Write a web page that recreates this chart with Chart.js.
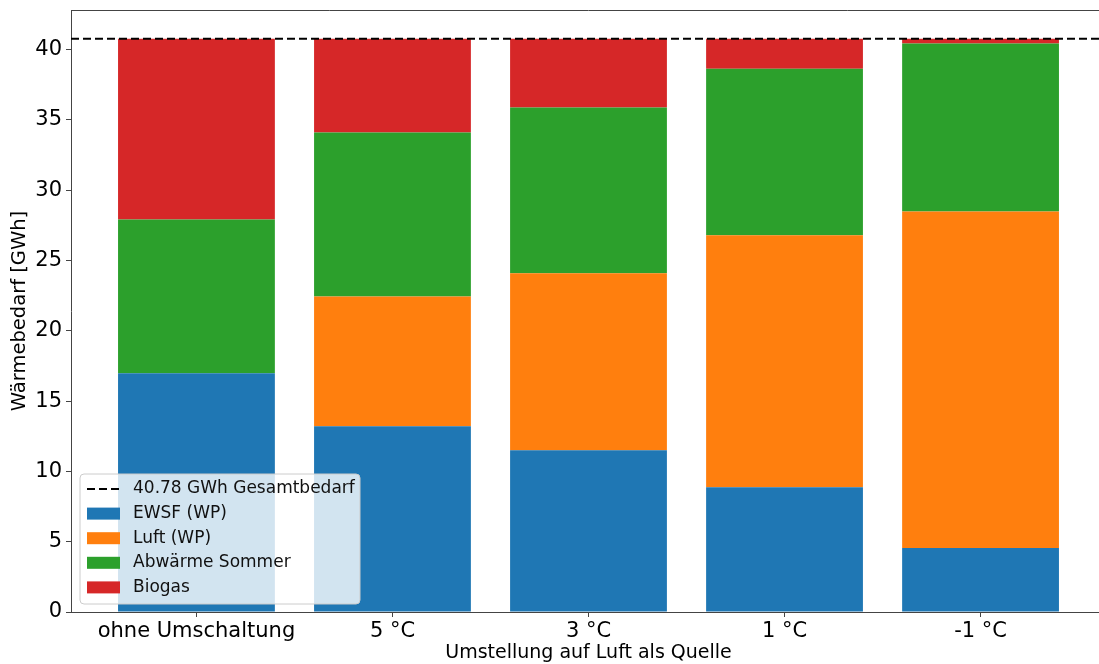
<!DOCTYPE html>
<html>
<head>
<meta charset="utf-8">
<script src="https://cdn.jsdelivr.net/npm/chart.js@4/dist/chart.umd.min.js"></script>
<style>
  html, body { margin: 0; padding: 0; background: white; overflow: hidden; width: 1099px; height: 664px; }
  #wrap { width: 1110px; height: 664px; }
</style>
</head>
<body>
<div id="wrap"><canvas id="waerme" width="1110" height="664"></canvas></div>
<script>
var categories = ['ohne Umschaltung', '5 °C', '3 °C', '1 °C', '-1 °C'];
var ewsf = [16.98, 13.21, 11.51, 8.88, 4.55];
var luft = [0, 9.24, 12.58, 17.91, 23.94];
var abwaerme = [10.94, 11.65, 11.79, 11.86, 11.94];
var biogas = [12.86, 6.68, 4.90, 2.13, 0.35];
var gesamtbedarf = 40.78;
var yTicks = [0, 5, 10, 15, 20, 25, 30, 35, 40];

var xMin = -0.64, xMax = 4.64;
var font = 'DejaVu Sans';

function points(arr) {
    return arr.map(function (v, i) { return { x: i, y: v }; });
}

// legend box like matplotlib, lower left inside the axes
var mplLegend = {
    id: 'mplLegend',
    afterDraw: function (chart) {
        var ctx = chart.ctx;
        var area = chart.chartArea;
        var x0 = area.left + 9, y1 = area.bottom - 8;
        var w = 280, h = 130;
        var y0 = y1 - h;
        ctx.save();
        ctx.beginPath();
        ctx.roundRect(x0, y0, w, h, 4);
        ctx.fillStyle = 'rgba(255,255,255,0.8)';
        ctx.fill();
        ctx.strokeStyle = '#cccccc';
        ctx.lineWidth = 1;
        ctx.stroke();
        ctx.font = '17px ' + font;
        ctx.textBaseline = 'middle';
        var order = [4, 0, 1, 2, 3];
        order.forEach(function (di, k) {
            var ds = chart.data.datasets[di];
            var cy = y0 + 15 + k * 24.6;
            var hx = x0 + 7;
            if (ds.type === 'line') {
                ctx.strokeStyle = ds.borderColor;
                ctx.lineWidth = 2;
                ctx.setLineDash(ds.borderDash);
                ctx.beginPath();
                ctx.moveTo(hx, cy);
                ctx.lineTo(hx + 33, cy);
                ctx.stroke();
                ctx.setLineDash([]);
            } else {
                ctx.fillStyle = ds.backgroundColor;
                ctx.fillRect(hx, cy - 6, 33, 12);
            }
            ctx.fillStyle = '#111';
            ctx.fillText(ds.label, x0 + 53, cy);
        });
        ctx.restore();
    }
};

var ctx = document.getElementById('waerme').getContext('2d');
var waermeChart = new Chart(ctx, {
    type: 'bar',
    data: {
        datasets: [
            { label: 'EWSF (WP)', data: points(ewsf), backgroundColor: '#1f77b4', stack: 'a' },
            { label: 'Luft (WP)', data: points(luft), backgroundColor: '#ff7f0e', stack: 'a' },
            { label: 'Abwärme Sommer', data: points(abwaerme), backgroundColor: '#2ca02c', stack: 'a' },
            { label: 'Biogas', data: points(biogas), backgroundColor: '#d62728', stack: 'a' },
            {
                type: 'line',
                label: gesamtbedarf.toFixed(2) + ' GWh Gesamtbedarf',
                data: [{ x: xMin, y: gesamtbedarf }, { x: xMax, y: gesamtbedarf }],
                borderColor: '#000',
                borderWidth: 2,
                borderDash: [8, 4],
                pointRadius: 0,
                stack: 'total',
                order: -1
            }
        ]
    },
    options: {
        responsive: false,
        animation: false,
        devicePixelRatio: 1,
        barPercentage: 0.8,
        categoryPercentage: 1,
        layout: { padding: { top: 10, right: 4, left: 0, bottom: 0 } },
        plugins: {
            legend: { display: false },
            tooltip: { enabled: false }
        },
        scales: {
            x: {
                type: 'linear',
                min: xMin,
                max: xMax,
                offset: false,
                afterBuildTicks: function (scale) {
                    scale.ticks = categories.map(function (c, i) { return { value: i }; });
                },
                afterFit: function (scale) {
                    scale.height = 52;
                    scale.paddingLeft = 0;
                    scale.paddingRight = 0;
                },
                ticks: {
                    autoSkip: false,
                    maxRotation: 0,
                    padding: 2,
                    color: '#000',
                    font: { family: font, size: 21 },
                    callback: function (v) { return categories[v]; }
                },
                grid: { offset: false, drawOnChartArea: false, tickLength: 5, color: '#444' },
                border: { color: '#444', width: 1 },
                title: {
                    display: true,
                    text: 'Umstellung auf Luft als Quelle',
                    color: '#000',
                    font: { family: font, size: 19 },
                    padding: { top: 0, bottom: 0 }
                }
            },
            y: {
                stacked: true,
                min: 0,
                max: 42.82,
                afterBuildTicks: function (scale) {
                    scale.ticks = yTicks.map(function (v) { return { value: v }; });
                },
                afterFit: function (scale) {
                    scale.width = 71;
                    scale.paddingTop = 0;
                    scale.paddingBottom = 0;
                },
                ticks: {
                    padding: 4,
                    color: '#000',
                    font: { family: font, size: 21 }
                },
                grid: { drawOnChartArea: false, tickLength: 5, color: '#444' },
                border: { color: '#444', width: 1 },
                title: {
                    display: true,
                    text: 'Wärmebedarf [GWh]',
                    color: '#000',
                    font: { family: font, size: 19.5 },
                    padding: { top: 8, bottom: 2 }
                }
            }
        }
    },
    plugins: [mplLegend, {
        id: 'topBorder',
        afterDraw: function (chart) {
            var c = chart.ctx, a = chart.chartArea;
            c.save();
            c.strokeStyle = '#444';
            c.lineWidth = 1;
            c.beginPath();
            c.moveTo(a.left, a.top + 0.5);
            c.lineTo(a.right, a.top + 0.5);
            c.stroke();
            c.restore();
        }
    }]
});
</script>
</body>
</html>
